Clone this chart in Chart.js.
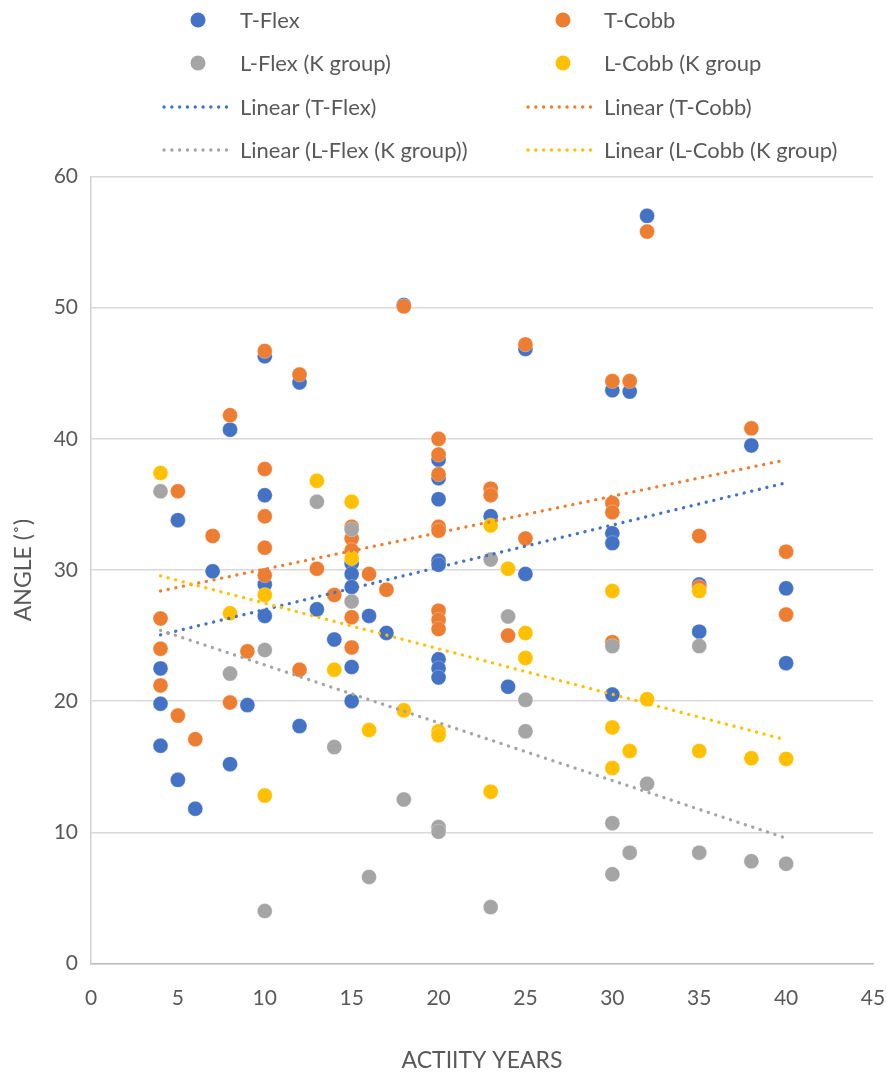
<!DOCTYPE html>
<html>
<head>
<meta charset="utf-8">
<script src="https://cdn.jsdelivr.net/npm/chart.js@4.4.1/dist/chart.umd.min.js"></script>
<style>
  html, body { margin: 0; padding: 0; background: #ffffff; }
  #wrap { width: 887px; height: 1076px; position: relative; }
  canvas { display: block; }
</style>
</head>
<body>
<div id="wrap"><canvas id="c" width="887" height="1076"></canvas></div>
<script>
// ---- Data: [activity years, angle] ----
const tFlex = [
  [4,22.5],[4,19.8],[4,16.6],[5,33.8],[5,14.0],[6,11.8],[7,29.9],[8,40.7],[8,15.2],[9,19.7],
  [10,46.3],[10,35.7],[10,28.9],[10,26.5],[12,44.3],[12,18.1],[13,27.0],[14,24.7],
  [15,30.5],[15,29.7],[15,28.7],[15,22.6],[15,20.0],[16,26.5],[17,25.2],[18,50.2],
  [20,38.4],[20,37.0],[20,35.4],[20,30.7],[20,30.4],[20,23.2],[20,22.5],[20,21.8],
  [23,34.1],[24,21.1],[25,46.85],[25,29.7],[30,43.7],[30,32.8],[30,32.05],[30,20.5],
  [31,43.6],[32,57.0],[35,28.9],[35,25.3],[38,39.5],[40,28.6],[40,22.9]
];
const tCobb = [
  [4,26.3],[4,24.0],[4,21.2],[5,36.0],[5,18.9],[6,17.1],[7,32.6],[8,41.8],[8,19.9],[9,23.8],
  [10,46.7],[10,37.7],[10,34.1],[10,31.7],[10,29.6],[12,44.9],[12,22.4],[13,30.1],[14,28.1],
  [15,33.3],[15,32.4],[15,31.5],[15,26.4],[15,24.1],[16,29.7],[17,28.5],[18,50.1],
  [20,40.0],[20,38.8],[20,37.3],[20,33.3],[20,33.0],[20,26.9],[20,26.2],[20,25.5],
  [23,36.2],[23,35.7],[24,25.0],[25,47.2],[25,32.4],[30,44.4],[30,35.1],[30,34.4],[30,24.5],
  [31,44.4],[32,55.8],[35,32.6],[35,28.7],[38,40.8],[40,31.4],[40,26.6]
];
const lFlex = [
  [4,36.0],[8,22.1],[10,23.9],[10,4.0],[13,35.2],[14,16.5],[15,33.1],[15,27.6],[16,6.6],
  [18,12.5],[20,10.4],[20,10.05],[23,30.8],[23,4.3],[24,26.45],[25,20.1],[25,17.7],
  [30,24.2],[30,10.7],[30,6.8],[31,8.45],[32,13.7],[35,24.2],[35,8.45],[38,7.8],[40,7.6]
];
const lCobb = [
  [4,37.4],[8,26.7],[10,28.1],[10,12.8],[13,36.8],[14,22.4],[15,35.2],[15,30.9],[16,17.8],
  [18,19.3],[20,17.7],[20,17.4],[23,33.4],[23,13.1],[24,30.1],[25,25.2],[25,23.3],
  [30,28.4],[30,18.0],[30,14.9],[31,16.2],[32,20.15],[35,28.4],[35,16.2],[38,15.65],[40,15.6]
];
// Linear trend lines (end values)
const trendX = [4, 40];
const tFlexTrend = [25.05, 36.65];
const tCobbTrend = [28.4, 38.4];
const lFlexTrend = [25.4, 9.55];
const lCobbTrend = [29.55, 17.05];

const xTicks = [0,5,10,15,20,25,30,35,40,45];
const yTicks = [0,10,20,30,40,50,60];

const labels = {
  tFlex: 'T-Flex', tCobb: 'T-Cobb', lFlex: 'L-Flex (K group)', lCobb: 'L-Cobb (K group',
  tFlexT: 'Linear (T-Flex)', tCobbT: 'Linear (T-Cobb)',
  lFlexT: 'Linear (L-Flex (K group))', lCobbT: 'Linear (L-Cobb (K group)'
};
const colors = { blue: '#4472C4', orange: '#ED7D31', gray: '#A5A5A5', yellow: '#FFC000' };

const FONT = "Lato, 'Liberation Sans', sans-serif";
const TEXT = '#595959';

function pts(arr) { return arr.map(p => ({x: p[0], y: p[1]})); }
function trend(vals) { return trendX.map((x, i) => ({x: x, y: vals[i]})); }

function pointSet(label, data, color, order) {
  return {
    label, data: pts(data), order,
    backgroundColor: color, borderColor: 'rgba(255,255,255,0.35)',
    pointRadius: 7.5, pointHoverRadius: 7.5, pointBorderWidth: 0.8,
    showLine: false, _legendType: 'point'
  };
}
function trendSet(label, vals, color, order) {
  return {
    label, data: trend(vals), order,
    borderColor: color, backgroundColor: color,
    borderWidth: 3.3, borderDash: [0.1, 7.7], borderCapStyle: 'round',
    pointRadius: 0, pointHoverRadius: 0, showLine: true, fill: false, tension: 0,
    _legendType: 'line'
  };
}

const datasets = [
  pointSet(labels.tFlex, tFlex, colors.blue, 8),
  pointSet(labels.tCobb, tCobb, colors.orange, 7),
  pointSet(labels.lFlex, lFlex, colors.gray, 6),
  pointSet(labels.lCobb, lCobb, colors.yellow, 5),
  trendSet(labels.tFlexT, tFlexTrend, colors.blue, 4),
  trendSet(labels.tCobbT, tCobbTrend, colors.orange, 3),
  trendSet(labels.lFlexT, lFlexTrend, colors.gray, 2),
  trendSet(labels.lCobbT, lCobbTrend, colors.yellow, 1)
];

// Custom two-column legend at the top of the picture
const legendPlugin = {
  id: 'excelLegend',
  afterDraw(chart) {
    const ctx = chart.ctx;
    const rows = [20, 63, 107, 150];
    const cols = [
      {marker: 198, text: 240, lx1: 164, lx2: 229},
      {marker: 563, text: 604, lx1: 528, lx2: 594}
    ];
    ctx.save();
    chart.data.datasets.forEach((ds, i) => {
      const row = rows[Math.floor(i / 2)];
      const col = cols[i % 2];
      if (ds._legendType === 'point') {
        ctx.beginPath();
        ctx.fillStyle = ds.backgroundColor;
        ctx.arc(col.marker, row, 7.5, 0, Math.PI * 2);
        ctx.fill();
      } else {
        ctx.beginPath();
        ctx.strokeStyle = ds.borderColor;
        ctx.lineWidth = 3.3;
        ctx.lineCap = 'round';
        ctx.setLineDash([0.1, 7.7]);
        ctx.moveTo(col.lx1, row);
        ctx.lineTo(col.lx2, row);
        ctx.stroke();
        ctx.setLineDash([]);
      }
      ctx.fillStyle = TEXT;
      ctx.font = "22px " + FONT;
      ctx.textAlign = 'left';
      ctx.textBaseline = 'middle';
      ctx.fillText(ds.label, col.text, row + 1);
    });
    ctx.restore();
  }
};

new Chart(document.getElementById('c'), {
  type: 'scatter',
  data: { datasets },
  plugins: [legendPlugin],
  options: {
    responsive: false,
    devicePixelRatio: 1,
    animation: false,
    events: [],
    layout: { padding: { top: 176.5, left: 0, right: 14, bottom: 0 } },
    plugins: { legend: { display: false }, tooltip: { enabled: false }, title: { display: false } },
    scales: {
      x: {
        type: 'linear', min: 0, max: 45,
        afterFit(scale) { scale.height = 112.5; scale.paddingLeft = 0; scale.paddingRight = 0; },
        afterBuildTicks(scale) { scale.ticks = xTicks.map(v => ({value: v})); },
        grid: { display: false, drawTicks: false },
        border: { display: true, color: '#bfbfbf', width: 1.5 },
        ticks: { color: TEXT, font: { family: FONT, size: 21 }, padding: 22, maxRotation: 0 },
        title: { display: true, text: 'ACTIITY YEARS', color: TEXT,
                 font: { family: FONT, size: 23 }, padding: { top: 0, bottom: 2 } }
      },
      y: {
        type: 'linear', min: 0, max: 60,
        afterFit(scale) { scale.width = 91; scale.paddingTop = 0; scale.paddingBottom = 0; },
        afterBuildTicks(scale) { scale.ticks = yTicks.map(v => ({value: v})); },
        grid: { color: '#d9d9d9', lineWidth: 1.5, drawTicks: false },
        border: { display: true, color: '#d0d0d0', width: 1.5 },
        ticks: { color: TEXT, font: { family: FONT, size: 21 }, padding: 13 },
        title: { display: true, text: 'ANGLE (˚)', color: TEXT,
                 font: { family: FONT, size: 23 }, padding: { top: 10, bottom: 0 } }
      }
    }
  }
});
</script>
</body>
</html>
